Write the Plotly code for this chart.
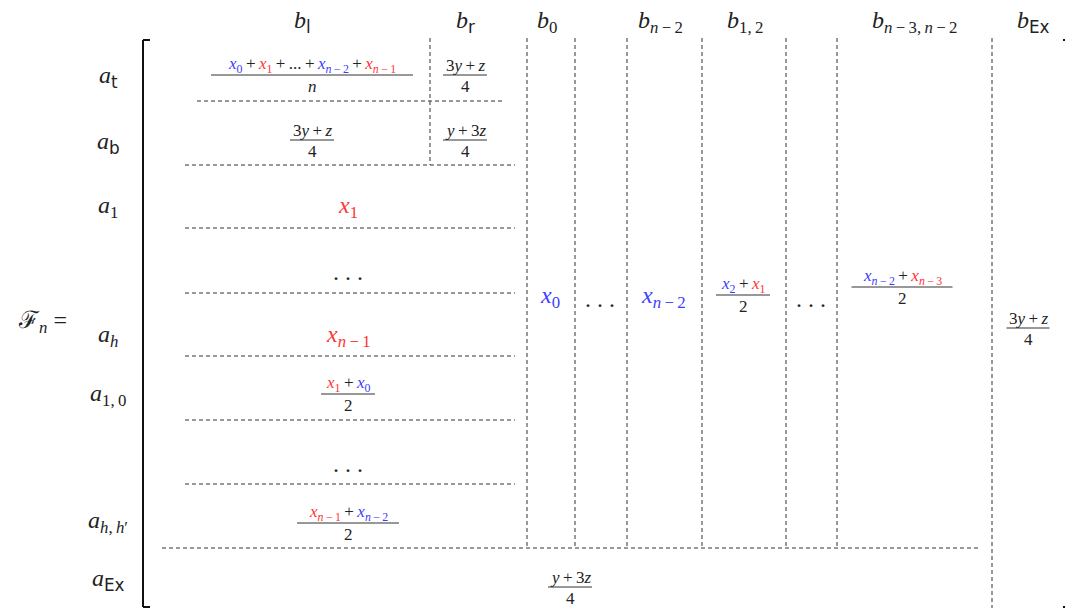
import plotly.graph_objects as go

BLUE = '#3c3cff'
RED = '#ff3434'
INK = '#222222'
SERIF = 'Liberation Serif'
SANS = 'DejaVu Sans'
TS = '\u2009'          # thin space, mimics TeX spacing round binary operators
MINUS = TS + '\u2212' + TS
PLUS = TS + '+' + TS


def sf(s):
    return f'<span style="font-family:{SANS}">{s}</span>'


def xv(sub, color):
    return f'<span style="color:{color}"><i>x</i><sub>{sub}</sub></span>'


N = '<i>n</i>'

# --- labels -----------------------------------------------------------------
col_labels = [
    '<i>b</i><sub>' + sf('l') + '</sub>',
    '<i>b</i><sub>' + sf('r') + '</sub>',
    '<i>b</i><sub>0</sub>',
    '<i>b</i><sub>' + N + MINUS + '2</sub>',
    '<i>b</i><sub>1,' + TS + '2</sub>',
    '<i>b</i><sub>' + N + MINUS + '3,' + TS + N + MINUS + '2</sub>',
    '<i>b</i><sub>' + sf('Ex') + '</sub>',
]
row_labels = [
    '<i>a</i><sub>' + sf('t') + '</sub>',
    '<i>a</i><sub>' + sf('b') + '</sub>',
    '<i>a</i><sub>1</sub>',
    '<i>a</i><sub><i>h</i></sub>',
    '<i>a</i><sub>1,' + TS + '0</sub>',
    '<i>a</i><sub><i>h</i>,' + TS + '<i>h</i>\u2032</sub>',
    '<i>a</i><sub>' + sf('Ex') + '</sub>',
]
matrix_name = '\u2131<sub><i>n</i></sub> ='

# --- cell entries: numerator (or single term) and denominator ---------------
cell_num = [
    xv('0', BLUE) + PLUS + xv('1', RED) + PLUS + '...' + PLUS + xv(N + MINUS + '2', BLUE) + PLUS + xv(N + MINUS + '1', RED),
    '3<i>y</i>' + PLUS + '<i>z</i>',
    '3<i>y</i>' + PLUS + '<i>z</i>',
    '<i>y</i>' + PLUS + '3<i>z</i>',
    xv('1', RED),
    '. . .',
    xv(N + MINUS + '1', RED),
    xv('1', RED) + PLUS + xv('0', BLUE),
    '. . .',
    xv(N + MINUS + '1', RED) + PLUS + xv(N + MINUS + '2', BLUE),
    xv('0', BLUE),
    '. . .',
    xv(N + MINUS + '2', BLUE),
    xv('2', BLUE) + PLUS + xv('1', RED),
    '. . .',
    xv(N + MINUS + '2', BLUE) + PLUS + xv(N + MINUS + '3', RED),
    '3<i>y</i>' + PLUS + '<i>z</i>',
    '<i>y</i>' + PLUS + '3<i>z</i>',
]
cell_den = ['<i>n</i>', '4', '4', '4', None, None, None, '2', None, '2',
            None, None, None, '2', None, '2', '4', '4']

# --- geometry (page pixels) -------------------------------------------------
PAD = 8  # default body margin of the written page
col_label_x = [302, 465, 547, 660, 745, 915, 1033]
col_label_y = 22
row_label_x = 108
row_label_y = [77, 143, 207, 336, 395, 522, 580]
cell_x = [312, 465, 312, 465, 348, 348, 348, 348, 348, 348,
          550, 600, 663, 743, 811, 902, 1028, 570]
cell_y = [75, 75, 140, 140, 207, 272, 336, 394, 464, 523,
          297, 299, 297, 295, 299, 287, 328, 587]
bar_w = [202, 44, 44, 44, 0, 0, 0, 54, 0, 102, 0, 0, 0, 54, 0, 101, 43, 44]

# dashed lines: (x0, y0, x1, y1)
dashed = [
    (430, 38, 430, 165),
    (527, 38, 527, 548), (575, 38, 575, 548), (627, 38, 627, 548),
    (702, 38, 702, 548), (786, 38, 786, 548), (837, 38, 837, 548),
    (992, 38, 992, 608),
    (197, 101, 502, 101),
    (185, 165, 515, 165), (185, 228, 515, 228), (185, 293, 515, 293),
    (185, 356, 515, 356), (185, 420, 515, 420), (185, 484, 515, 484),
    (162, 548, 980, 548),
]

fig = go.Figure()
fig.add_trace(go.Scatter(x=[PAD, 1073 + PAD], y=[PAD, 612 + PAD], mode='markers',
                         marker=dict(opacity=0), hoverinfo='skip', showlegend=False))

shapes = []
for x0, y0, x1, y1 in dashed:
    shapes.append(dict(type='line', x0=x0, y0=y0, x1=x1, y1=y1,
                       line=dict(color='#333333', width=1, dash='4px,3px')))

# brackets
for xb, tick in [(143, 150), (1070, 1063)]:
    for seg in [(xb, 40, xb, 607), (xb, 40, tick, 40), (xb, 607, tick, 607)]:
        shapes.append(dict(type='line', x0=seg[0], y0=seg[1], x1=seg[2], y1=seg[3],
                           line=dict(color='#111111', width=2)))

for t, x in zip(col_labels, col_label_x):
    fig.add_annotation(x=x, y=col_label_y, text=t, showarrow=False, borderpad=0,
                       font=dict(family=SERIF, size=24, color=INK))
for t, y in zip(row_labels, row_label_y):
    fig.add_annotation(x=row_label_x, y=y, text=t, showarrow=False,
                       font=dict(family=SERIF, size=24, color=INK))
fig.add_annotation(x=42, y=322, text=matrix_name, showarrow=False,
                   font=dict(family=SERIF, size=24, color=INK))

for num, den, x, y, w in zip(cell_num, cell_den, cell_x, cell_y, bar_w):
    if den is None:
        fig.add_annotation(x=x, y=y, text=num, showarrow=False,
                           font=dict(family=SERIF, size=24, color=INK))
    else:
        fig.add_annotation(x=x, y=y - 10, text=num, showarrow=False,
                           font=dict(family=SERIF, size=17, color=INK))
        fig.add_annotation(x=x, y=y + 11, text=den, showarrow=False,
                           font=dict(family=SERIF, size=17, color=INK))
        shapes.append(dict(type='line', x0=x - w / 2, x1=x + w / 2, y0=y, y1=y,
                           line=dict(color='#333333', width=1.2)))

fig.update_layout(
    width=1073, height=612,
    font=dict(family=SERIF, color=INK),
    margin=dict(l=0, r=0, t=0, b=0),
    paper_bgcolor='white', plot_bgcolor='white',
    xaxis=dict(range=[PAD, 1073 + PAD], visible=False, fixedrange=True),
    yaxis=dict(range=[612 + PAD, PAD], visible=False, fixedrange=True),
    shapes=shapes, showlegend=False,
)

fig.write_html("out.html")
